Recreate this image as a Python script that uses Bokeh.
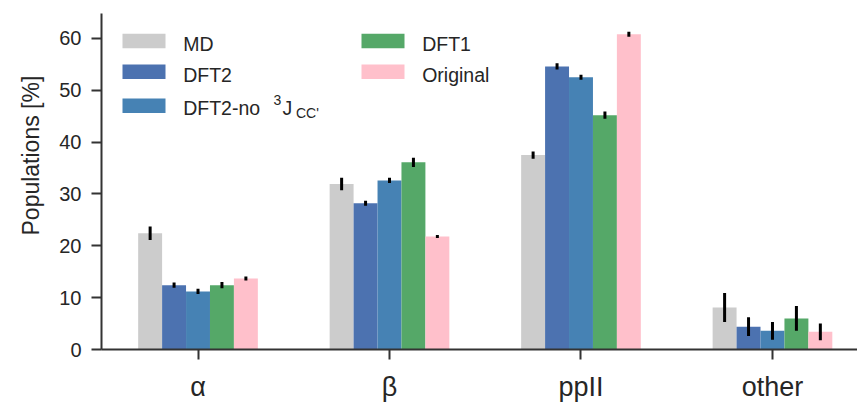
import numpy as np
from bokeh.plotting import figure
from bokeh.models import Range1d, FixedTicker, Label, BoxAnnotation, ColumnDataSource, Title
from bokeh.embed import file_html
from bokeh.resources import INLINE

# Populations of backbone conformations for each model
categories = ["α", "β", "ppII", "other"]
series = ["MD", "DFT2", "DFT2-no", "DFT1", "Original"]
colors = ["#cccccc", "#4c72b0", "#4682b4", "#55a868", "#ffc0cb"]

md = [22.4, 31.9, 37.5, 8.1]
md_err = [1.3, 1.2, 0.7, 2.8]
dft2 = [12.4, 28.2, 54.6, 4.4]
dft2_err = [0.5, 0.5, 0.6, 1.8]
dft2_no = [11.2, 32.6, 52.5, 3.6]
dft2_no_err = [0.5, 0.5, 0.5, 1.7]
dft1 = [12.4, 36.1, 45.2, 6.0]
dft1_err = [0.6, 0.9, 0.7, 2.4]
original = [13.7, 21.8, 60.8, 3.4]
original_err = [0.4, 0.3, 0.5, 1.6]

y_ticks = [0, 10, 20, 30, 40, 50, 60]

values = [md, dft2, dft2_no, dft1, original]
errors = [md_err, dft2_err, dft2_no_err, dft1_err, original_err]

TEXT = "#262626"
FONT = "Liberation Sans"
W, H = 857, 404
FRAME_L, FRAME_T, FRAME_B = 101, 13, 349
X0, X1 = -0.504, 3.444
Y0, Y1 = 0, 64.8

p = figure(width=W, height=H, output_backend="svg", toolbar_location=None,
           x_range=Range1d(X0, X1), y_range=Range1d(Y0, Y1),
           min_border_left=FRAME_L, min_border_right=0,
           min_border_top=FRAME_T, min_border_bottom=H - FRAME_B)
p.outline_line_color = None
p.xgrid.visible = False
p.ygrid.visible = False
p.background_fill_color = "white"
p.border_fill_color = "white"

# pixel -> data helpers for the hand-built legend
ppx = (W - FRAME_L) / (X1 - X0)
ppy = (FRAME_B - FRAME_T) / (Y1 - Y0)
def dx(px):
    return X0 + (px - FRAME_L) / ppx
def dy(py):
    return Y0 + (FRAME_B - py) / ppy

bar_w = 0.125
base = np.arange(len(categories))
for i, (name, vals, errs, col) in enumerate(zip(series, values, errors, colors)):
    xs = base + (i - (len(series) - 1) / 2) * bar_w
    v = np.array(vals)
    e = np.array(errs)
    src = ColumnDataSource(dict(x=xs, top=v, lo=v - e, hi=v + e))
    p.vbar(x="x", top="top", bottom=0, width=bar_w, source=src,
           fill_color=col, line_color=None)
    p.segment(x0="x", y0="lo", x1="x", y1="hi", source=src,
              line_color="black", line_width=3)

for ax in (p.xaxis, p.yaxis):
    ax.axis_line_color = "#333333"
    ax.axis_line_width = 2
    ax.major_tick_line_color = "#333333"
    ax.major_tick_line_width = 2
    ax.major_tick_in = 0
    ax.major_tick_out = 10
    ax.minor_tick_line_color = None
    ax.major_label_text_color = TEXT
    ax.major_label_text_font = FONT

p.yaxis.ticker = FixedTicker(ticks=y_ticks)
p.yaxis.major_label_text_font_size = "20px"
p.yaxis.major_label_standoff = 10

p.xaxis.ticker = FixedTicker(ticks=list(base))
p.xaxis.major_label_overrides = {int(k): c for k, c in zip(base, categories)}
p.xaxis.major_label_text_font_size = "27px"
p.xaxis.major_label_standoff = 12

# y axis title, starting a fixed distance above the frame bottom
p.add_layout(Title(text="Populations [%]", align="left", offset=114, standoff=25,
                   text_font=FONT, text_font_size="23px", text_font_style="normal",
                   text_color=TEXT), "left")

# legend: two columns, filled top to bottom
legend_fs = "19.5px"
patch_w, patch_h = 43, 14.5
col_x = [122, 361]
row_y = [40.5, 71.3, 105.3]
row_base = [43.5, 74.5, 107]
slots = [(0, 0), (0, 1), (0, 2), (1, 0), (1, 1)]
for (c, r), name, col in zip(slots, series, colors):
    left = col_x[c]
    p.add_layout(BoxAnnotation(left=dx(left), right=dx(left + patch_w),
                               bottom=dy(row_y[r] + patch_h / 2), top=dy(row_y[r] - patch_h / 2),
                               fill_color=col, fill_alpha=1, line_alpha=0))
    tx = left + 60.7
    if name == "DFT2-no":
        parts = [("DFT2-no", tx, row_base[r], legend_fs),
                 ("3", 273, row_base[r] - 8, "14px"),
                 ("J", 282, row_base[r], legend_fs),
                 ("CC'", 295.5, row_base[r] + 5, "14px")]
    else:
        parts = [(name, tx, row_base[r], legend_fs)]
    for text, px, py, fs in parts:
        p.add_layout(Label(x=dx(px), y=dy(py), text=text, text_align="left",
                           text_baseline="alphabetic", text_font=FONT,
                           text_font_size=fs, text_color=TEXT))

open("out.html", "w").write(file_html(p, INLINE))
